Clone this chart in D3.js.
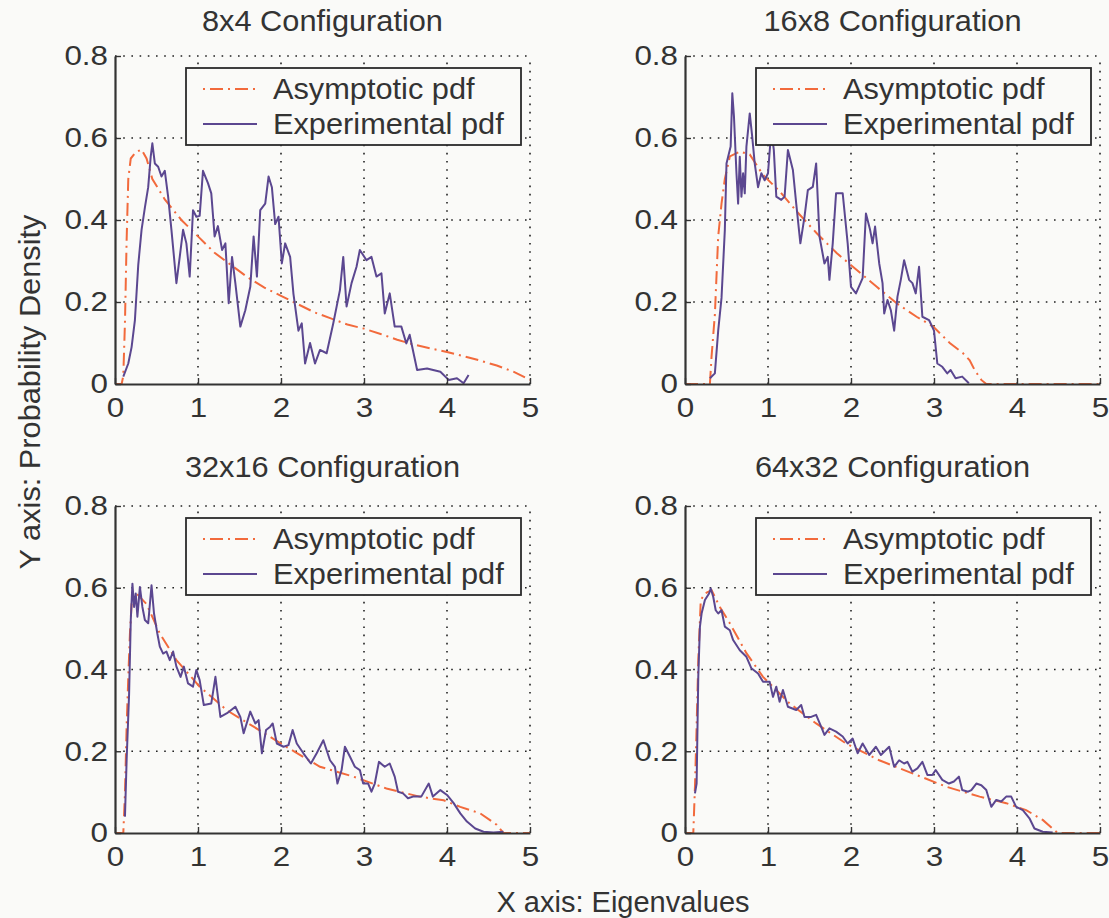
<!DOCTYPE html>
<html>
<head>
<meta charset="utf-8">
<script src="https://cdn.jsdelivr.net/npm/d3@7"></script>
<style>
  html, body { margin: 0; padding: 0; background: #fafaf8; }
  svg { display: block; font-family: "Liberation Sans", Arial, Helvetica, sans-serif; }
</style>
</head>
<body>
<svg id="chart" width="1109" height="918"></svg>
<script>
// ---------- data ----------
const titles = ["8x4 Configuration", "16x8 Configuration", "32x16 Configuration", "64x32 Configuration"];
const seriesNames = ["Asymptotic pdf", "Experimental pdf"];
const xTicks = [0, 1, 2, 3, 4, 5];
const xTickLabels = ["0", "1", "2", "3", "4", "5"];
const yTicks = [0, 0.2, 0.4, 0.6, 0.8];
const yTickLabels = ["0", "0.2", "0.4", "0.6", "0.8"];
const xLabel = "X axis: Eigenvalues";
const yLabel = "Y axis: Probability Density";

// 8x4
const asym8x4 = [[0,0],[0.08,0],[0.1,0.02],[0.12,0.15],[0.14,0.35],[0.16,0.50],[0.19,0.55],[0.25,0.565],[0.32,0.572],[0.38,0.55],[0.45,0.50],[0.6,0.45],[0.8,0.40],[1.0,0.36],[1.2,0.32],[1.4,0.29],[1.6,0.26],[1.8,0.235],[2.0,0.215],[2.2,0.195],[2.4,0.175],[2.6,0.16],[2.8,0.145],[3.0,0.135],[3.2,0.122],[3.4,0.108],[3.6,0.096],[3.8,0.087],[4.0,0.078],[4.2,0.068],[4.4,0.057],[4.6,0.045],[4.8,0.03],[5.0,0.01]];
const exp8x4 = [[0.10,0.018],[0.16,0.05],[0.2,0.09],[0.24,0.156],[0.28,0.29],[0.32,0.376],[0.36,0.43],[0.40,0.48],[0.43,0.554],[0.45,0.587],[0.48,0.538],[0.52,0.53],[0.56,0.506],[0.60,0.52],[0.64,0.457],[0.68,0.376],[0.74,0.246],[0.78,0.31],[0.82,0.376],[0.86,0.343],[0.9,0.262],[0.94,0.424],[0.98,0.408],[1.02,0.41],[1.06,0.52],[1.12,0.49],[1.16,0.465],[1.2,0.36],[1.24,0.385],[1.29,0.327],[1.33,0.343],[1.37,0.197],[1.41,0.31],[1.45,0.246],[1.51,0.14],[1.57,0.18],[1.63,0.237],[1.67,0.36],[1.71,0.262],[1.75,0.424],[1.81,0.44],[1.85,0.506],[1.89,0.48],[1.93,0.39],[1.97,0.408],[2.01,0.294],[2.05,0.343],[2.11,0.31],[2.15,0.22],[2.21,0.13],[2.25,0.148],[2.29,0.05],[2.35,0.10],[2.41,0.05],[2.47,0.083],[2.55,0.075],[2.63,0.148],[2.71,0.229],[2.75,0.31],[2.79,0.189],[2.85,0.246],[2.91,0.286],[2.95,0.327],[3.03,0.302],[3.09,0.31],[3.15,0.262],[3.21,0.27],[3.25,0.172],[3.31,0.221],[3.37,0.14],[3.45,0.14],[3.51,0.099],[3.55,0.12],[3.64,0.034],[3.76,0.038],[3.92,0.03],[4.02,0.01],[4.12,0.014],[4.2,0.002],[4.26,0.022]];

// 16x8
const asym16x8 = [[0,0],[0.30,0],[0.32,0.067],[0.36,0.17],[0.40,0.36],[0.44,0.44],[0.48,0.50],[0.54,0.555],[0.66,0.567],[0.78,0.56],[0.94,0.51],[1.14,0.47],[1.35,0.42],[1.59,0.367],[1.83,0.319],[2.07,0.278],[2.31,0.237],[2.55,0.197],[2.79,0.164],[2.99,0.14],[3.19,0.10],[3.35,0.075],[3.43,0.058],[3.49,0.034],[3.57,0.01],[3.63,0],[5.0,0]];
const exp16x8 = [[0.30,0.014],[0.36,0.026],[0.40,0.13],[0.44,0.21],[0.48,0.376],[0.50,0.538],[0.53,0.563],[0.55,0.579],[0.57,0.709],[0.59,0.652],[0.62,0.514],[0.64,0.44],[0.66,0.554],[0.68,0.457],[0.70,0.514],[0.72,0.465],[0.74,0.579],[0.78,0.66],[0.81,0.603],[0.84,0.538],[0.88,0.48],[0.92,0.514],[0.96,0.497],[1.00,0.514],[1.04,0.62],[1.07,0.571],[1.10,0.457],[1.16,0.449],[1.2,0.457],[1.24,0.571],[1.30,0.522],[1.34,0.44],[1.39,0.343],[1.44,0.408],[1.48,0.473],[1.54,0.481],[1.58,0.538],[1.62,0.36],[1.68,0.294],[1.72,0.31],[1.74,0.254],[1.78,0.343],[1.82,0.465],[1.90,0.465],[1.96,0.343],[2.0,0.237],[2.06,0.221],[2.14,0.258],[2.18,0.416],[2.23,0.376],[2.26,0.343],[2.29,0.384],[2.34,0.294],[2.38,0.246],[2.40,0.172],[2.44,0.205],[2.48,0.18],[2.52,0.13],[2.56,0.213],[2.60,0.254],[2.64,0.302],[2.7,0.254],[2.74,0.246],[2.78,0.221],[2.82,0.286],[2.86,0.164],[2.94,0.156],[3.0,0.13],[3.04,0.05],[3.1,0.042],[3.16,0.026],[3.2,0.034],[3.26,0.014],[3.34,0.018],[3.42,0.002]];

// 32x16
const asym32x16 = [[0,0],[0.1,0],[0.12,0.097],[0.14,0.26],[0.16,0.38],[0.18,0.488],[0.2,0.56],[0.26,0.586],[0.38,0.56],[0.54,0.488],[0.74,0.423],[1.02,0.358],[1.35,0.30],[1.67,0.26],[2.07,0.21],[2.47,0.162],[2.87,0.138],[3.27,0.109],[3.67,0.089],[3.96,0.08],[4.16,0.064],[4.4,0.048],[4.6,0.02],[4.68,0],[5.0,0]];
const exp32x16 = [[0.12,0.04],[0.14,0.178],[0.17,0.341],[0.19,0.521],[0.21,0.61],[0.23,0.553],[0.25,0.586],[0.27,0.529],[0.30,0.602],[0.33,0.553],[0.36,0.521],[0.40,0.513],[0.44,0.606],[0.47,0.537],[0.51,0.488],[0.54,0.456],[0.58,0.439],[0.62,0.444],[0.66,0.423],[0.70,0.444],[0.74,0.407],[0.79,0.382],[0.83,0.407],[0.88,0.366],[0.94,0.358],[0.98,0.399],[1.02,0.374],[1.07,0.313],[1.16,0.317],[1.21,0.382],[1.27,0.284],[1.35,0.293],[1.45,0.309],[1.51,0.284],[1.55,0.244],[1.63,0.297],[1.69,0.268],[1.73,0.276],[1.77,0.195],[1.82,0.252],[1.87,0.26],[1.90,0.268],[1.95,0.219],[2.03,0.211],[2.09,0.215],[2.14,0.252],[2.19,0.219],[2.27,0.195],[2.36,0.17],[2.43,0.195],[2.51,0.227],[2.59,0.178],[2.65,0.162],[2.68,0.121],[2.73,0.154],[2.77,0.211],[2.83,0.187],[2.89,0.162],[2.95,0.154],[2.99,0.121],[3.05,0.121],[3.09,0.101],[3.13,0.121],[3.18,0.174],[3.25,0.162],[3.31,0.17],[3.37,0.138],[3.41,0.101],[3.47,0.097],[3.53,0.085],[3.59,0.089],[3.69,0.089],[3.78,0.121],[3.83,0.089],[3.92,0.105],[4.0,0.093],[4.08,0.073],[4.16,0.048],[4.24,0.028],[4.34,0.011],[4.44,0.003],[4.56,0.001],[4.68,0.003]];

// 64x32
const asym64x32 = [[0,0],[0.1,0],[0.12,0.113],[0.14,0.26],[0.16,0.423],[0.19,0.57],[0.24,0.586],[0.32,0.594],[0.42,0.553],[0.54,0.513],[0.74,0.44],[0.94,0.382],[1.26,0.317],[1.58,0.268],[1.94,0.219],[2.34,0.178],[2.74,0.146],[3.15,0.113],[3.55,0.089],[3.87,0.073],[4.11,0.056],[4.31,0.032],[4.45,0.007],[4.49,0],[5.0,0]];
const exp64x32 = [[0.12,0.097],[0.14,0.121],[0.16,0.382],[0.18,0.505],[0.20,0.537],[0.24,0.57],[0.29,0.586],[0.31,0.598],[0.34,0.578],[0.37,0.545],[0.40,0.537],[0.44,0.545],[0.48,0.505],[0.54,0.496],[0.58,0.472],[0.66,0.447],[0.74,0.431],[0.80,0.403],[0.88,0.39],[0.94,0.37],[1.02,0.37],[1.06,0.333],[1.10,0.358],[1.14,0.321],[1.18,0.35],[1.24,0.309],[1.34,0.301],[1.40,0.313],[1.44,0.284],[1.52,0.284],[1.58,0.289],[1.64,0.26],[1.68,0.24],[1.74,0.256],[1.82,0.248],[1.90,0.236],[1.96,0.219],[2.02,0.231],[2.08,0.195],[2.14,0.219],[2.22,0.191],[2.30,0.211],[2.36,0.191],[2.46,0.211],[2.52,0.162],[2.58,0.178],[2.64,0.17],[2.68,0.174],[2.74,0.15],[2.80,0.158],[2.86,0.174],[2.92,0.142],[2.98,0.142],[3.02,0.154],[3.10,0.13],[3.18,0.121],[3.24,0.126],[3.30,0.138],[3.34,0.105],[3.41,0.101],[3.45,0.105],[3.51,0.121],[3.57,0.117],[3.63,0.105],[3.69,0.064],[3.75,0.081],[3.81,0.077],[3.87,0.089],[3.93,0.089],[3.99,0.064],[4.07,0.056],[4.15,0.036],[4.21,0.011],[4.31,0.003],[4.43,0.001]];

const asymSeries = [asym8x4, asym16x8, asym32x16, asym64x32];
const expSeries = [exp8x4, exp16x8, exp32x16, exp64x32];

// ---------- layout ----------
const panels = [
  {x0: 115, x1: 530, y0: 384, y1: 56, titleY: 31},
  {x0: 685, x1: 1100, y0: 384, y1: 56, titleY: 31},
  {x0: 115, x1: 530, y0: 833, y1: 506, titleY: 477},
  {x0: 685, x1: 1100, y0: 833, y1: 506, titleY: 477}
];
const textColor = "#333333";
const asymColor = "#f26a3c";
const expColor = "#5b4790";

const svg = d3.select("#chart");
svg.append("rect").attr("width", 1109).attr("height", 918).attr("fill", "#fafaf8");

function stretch(sel, f) {
  sel.each(function() {
    const len = this.getComputedTextLength();
    d3.select(this).attr("textLength", len * f).attr("lengthAdjust", "spacingAndGlyphs");
  });
}

panels.forEach((p, i) => {
  const x = d3.scaleLinear().domain([0, 5]).range([p.x0, p.x1]);
  const y = d3.scaleLinear().domain([0, 0.8]).range([p.y0, p.y1]);
  const g = svg.append("g");

  // grid
  g.append("g").selectAll("line").data(xTicks.filter(d => d > 0)).join("line")
    .attr("x1", d => x(d)).attr("x2", d => x(d))
    .attr("y1", y(0)).attr("y2", y(0.8))
    .attr("stroke", "#222").attr("stroke-width", 1.6)
    .attr("stroke-dasharray", "1.6,6.6");
  g.append("g").selectAll("line").data(yTicks.filter(d => d > 0)).join("line")
    .attr("x1", x(0)).attr("x2", x(5))
    .attr("y1", d => y(d)).attr("y2", d => y(d))
    .attr("stroke", "#222").attr("stroke-width", 1.6)
    .attr("stroke-dasharray", "1.6,6.6");

  const line = d3.line().x(d => x(d[0])).y(d => y(d[1]));

  g.append("path").datum(asymSeries[i]).attr("d", line)
    .attr("fill", "none").attr("stroke", asymColor).attr("stroke-width", 2)
    .attr("stroke-dasharray", "13,5,2,5");
  g.append("path").datum(expSeries[i]).attr("d", line)
    .attr("fill", "none").attr("stroke", expColor).attr("stroke-width", 2)
    .attr("stroke-linejoin", "round");

  // axes
  const xAxis = d3.axisBottom(x).tickValues(xTicks)
    .tickFormat((d, k) => xTickLabels[k]).tickSizeInner(-6).tickSizeOuter(0).tickPadding(13);
  const yAxis = d3.axisLeft(y).tickValues(yTicks)
    .tickFormat((d, k) => yTickLabels[k]).tickSizeInner(-6).tickSizeOuter(0).tickPadding(7);
  const gx = g.append("g").attr("transform", `translate(0,${p.y0})`).call(xAxis);
  const gy = g.append("g").attr("transform", `translate(${p.x0},0)`).call(yAxis);
  [gx, gy].forEach(a => {
    a.select(".domain").attr("stroke", textColor).attr("stroke-width", 2.2);
    a.selectAll(".tick line").attr("stroke", textColor).attr("stroke-width", 1.4);
    a.selectAll(".tick text").attr("fill", textColor)
      .style("font-size", "28px").style("font-family", "'Liberation Sans', Arial, sans-serif");
    stretch(a.selectAll(".tick text"), 1.12);
  });

  // title
  const t = g.append("text").attr("x", (p.x0 + p.x1) / 2).attr("y", p.titleY)
    .attr("text-anchor", "middle").attr("fill", textColor)
    .style("font-size", "29px").text(titles[i]);
  stretch(t, 1.06);

  // legend
  const lx = p.x0 + 71, ly = p.y1 + 12, lw = 335, lh = 77;
  const lg = g.append("g");
  lg.append("rect").attr("x", lx).attr("y", ly).attr("width", lw).attr("height", lh)
    .attr("fill", "#fafaf8").attr("stroke", "#2a2a2a").attr("stroke-width", 1.8);
  const rows = [
    {name: seriesNames[0], color: asymColor, dash: true, dy: 21},
    {name: seriesNames[1], color: expColor, dash: false, dy: 56}
  ];
  rows.forEach(r => {
    const ln = lg.append("line").attr("x1", lx + 17).attr("x2", lx + 71)
      .attr("y1", ly + r.dy).attr("y2", ly + r.dy)
      .attr("stroke", r.color).attr("stroke-width", 2);
    if (r.dash) ln.attr("stroke-dasharray", "2,5,13,5");
    const tt = lg.append("text").attr("x", lx + 87).attr("y", ly + r.dy + 10)
      .attr("fill", textColor).style("font-size", "29px").text(r.name);
    stretch(tt, 1.06);
  });
});

// axis labels
const xl = svg.append("text").attr("x", 623).attr("y", 912).attr("text-anchor", "middle")
  .attr("fill", textColor).style("font-size", "29px").text(xLabel);
const yl = svg.append("text").attr("transform", "translate(40,392) rotate(-90)")
  .attr("text-anchor", "middle").attr("fill", textColor)
  .style("font-size", "29px").text(yLabel);
stretch(yl, 1.06);
</script>
</body>
</html>
